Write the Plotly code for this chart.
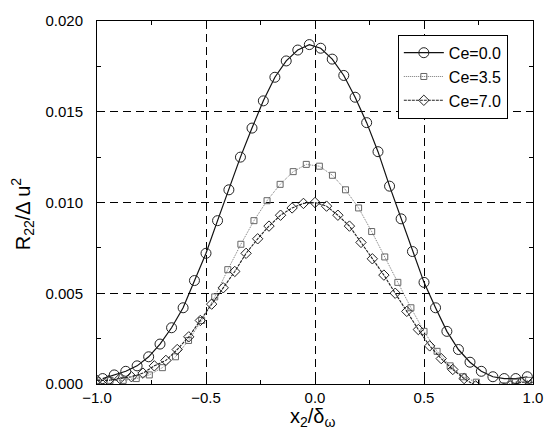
import plotly.graph_objects as go

# Ce = 0.0 (circles)
x_ce0 = [-0.974, -0.921, -0.868, -0.816, -0.763, -0.711, -0.658, -0.605, -0.553, -0.500,
         -0.447, -0.395, -0.342, -0.289, -0.237, -0.184, -0.132, -0.079, -0.026, 0.026,
         0.079, 0.132, 0.184, 0.237, 0.289, 0.342, 0.395, 0.447, 0.500, 0.553,
         0.605, 0.658, 0.711, 0.763, 0.816, 0.868, 0.921, 0.974]
y_ce0 = [0.0003, 0.0005, 0.0007, 0.0010, 0.0015, 0.0022, 0.0031, 0.0042, 0.0057, 0.0072,
         0.0090, 0.0107, 0.0125, 0.0141, 0.0156, 0.0169, 0.0178, 0.0184, 0.0187, 0.0185,
         0.0179, 0.0170, 0.0158, 0.0144, 0.0128, 0.0109, 0.0091, 0.0073, 0.0056, 0.0042,
         0.0029, 0.0019, 0.0012, 0.0007, 0.0004, 0.0003, 0.0003, 0.0004]

# Ce = 3.5 (squares)
x_ce35 = [-1.00, -0.94, -0.88, -0.82, -0.76, -0.70, -0.64, -0.58, -0.52, -0.46,
          -0.40, -0.34, -0.28, -0.22, -0.16, -0.10, -0.04, 0.02, 0.08, 0.14,
          0.20, 0.26, 0.32, 0.38, 0.44, 0.50, 0.56, 0.62, 0.68, 0.74,
          0.80, 0.86, 0.92, 0.98]
y_ce35 = [0.0002, 0.0002, 0.0002, 0.0003, 0.0005, 0.0009, 0.0015, 0.0024, 0.0035, 0.0048,
          0.0063, 0.0077, 0.0090, 0.0101, 0.0110, 0.0117, 0.0121, 0.0120, 0.0115, 0.0107,
          0.0097, 0.0084, 0.0070, 0.0056, 0.0042, 0.0029, 0.0018, 0.0010, 0.0004, 0.0001,
          -0.0002, -0.0001, 0.0001, 0.0002]

# Ce = 7.0 (diamonds)
x_ce7 = [-1.000, -0.947, -0.895, -0.842, -0.789, -0.737, -0.684, -0.632, -0.579, -0.526,
         -0.474, -0.421, -0.368, -0.316, -0.263, -0.211, -0.158, -0.105, -0.053, 0.000,
         0.053, 0.105, 0.158, 0.211, 0.263, 0.316, 0.368, 0.421, 0.474, 0.526,
         0.579, 0.632, 0.684, 0.737, 0.789, 0.842, 0.895, 0.947, 1.000]
y_ce7 = [0.0002, 0.0002, 0.0003, 0.0004, 0.0006, 0.0010, 0.0013, 0.0019, 0.0026, 0.0035,
         0.0044, 0.0053, 0.0062, 0.0072, 0.0080, 0.0087, 0.0093, 0.0097, 0.00995, 0.0100,
         0.0098, 0.0093, 0.0087, 0.0078, 0.0069, 0.0060, 0.0050, 0.0040, 0.0030, 0.0021,
         0.0014, 0.0008, 0.0003, -0.0001, -0.0003, -0.0003, -0.0001, 0.0001, 0.0001]

x_ticks = [-1.0, -0.5, 0.0, 0.5, 1.0]
y_ticks = [0.000, 0.005, 0.010, 0.015, 0.020]

FONT = "Liberation Sans, Arial, Helvetica, sans-serif"

fig = go.Figure()
fig.add_trace(go.Scatter(
    x=x_ce0, y=y_ce0, name="Ce=0.0", mode="lines+markers",
    line=dict(color="#111111", width=1.2),
    marker=dict(symbol="circle-open", size=10, color="#222222", line=dict(width=1)),
))
fig.add_trace(go.Scatter(
    x=x_ce35, y=y_ce35, name="Ce=3.5", mode="lines+markers",
    line=dict(color="#777777", width=1, dash="1px,1px"),
    marker=dict(symbol="square-open", size=6, color="#666666", line=dict(width=1)),
))
fig.add_trace(go.Scatter(
    x=x_ce7, y=y_ce7, name="Ce=7.0", mode="lines+markers",
    line=dict(color="#222222", width=1.1, dash="3px,1px"),
    marker=dict(symbol="diamond-open", size=8, color="#222222", line=dict(width=1)),
))

axis_common = dict(
    showline=True, linecolor="black", linewidth=1, mirror="ticks",
    ticks="inside", ticklen=6, tickcolor="black", tickwidth=1,
    showgrid=True, gridcolor="black", gridwidth=1, griddash="8px,5px",
    zeroline=False,
    tickfont=dict(family=FONT, size=15, color="black"),
)

fig.update_xaxes(
    range=[-1.0, 1.0], tickvals=x_ticks, tickformat=".1f",
    minor=dict(ticks="inside", ticklen=4, tickcolor="black", dtick=0.25, showgrid=False),
    ticklabelstandoff=0,
    **axis_common,
)
fig.update_yaxes(
    range=[0.0, 0.020], tickvals=y_ticks, tickformat=".3f",
    minor=dict(ticks="inside", ticklen=4, tickcolor="black", dtick=0.0025, showgrid=False),
    ticklabelstandoff=10,
    **axis_common,
)

fig.add_annotation(
    text="R<sub>22</sub>/Δ u<sup>2</sup>", xref="paper", yref="paper",
    x=-0.170, y=0.47, xanchor="center", yanchor="middle", textangle=-90,
    showarrow=False, font=dict(family=FONT, size=20, color="black"),
)
fig.add_annotation(
    text="x<sub>2</sub>/δ<sub>ω</sub>", xref="paper", yref="paper",
    x=0.4955, y=-0.051, xanchor="center", yanchor="top",
    showarrow=False, font=dict(family=FONT, size=20, color="black"),
)

fig.update_layout(
    width=555, height=436,
    margin=dict(l=97, r=12, t=14, b=52),
    paper_bgcolor="white", plot_bgcolor="white",
    font=dict(family=FONT, color="black"),
    showlegend=True,
    legend=dict(
        x=0.69, y=0.962, xanchor="left", yanchor="top",
        bgcolor="white", bordercolor="black", borderwidth=1,
        font=dict(family=FONT, size=16, color="black"),
        itemwidth=40, tracegroupgap=0,
    ),
)

fig.write_html("out.html")
